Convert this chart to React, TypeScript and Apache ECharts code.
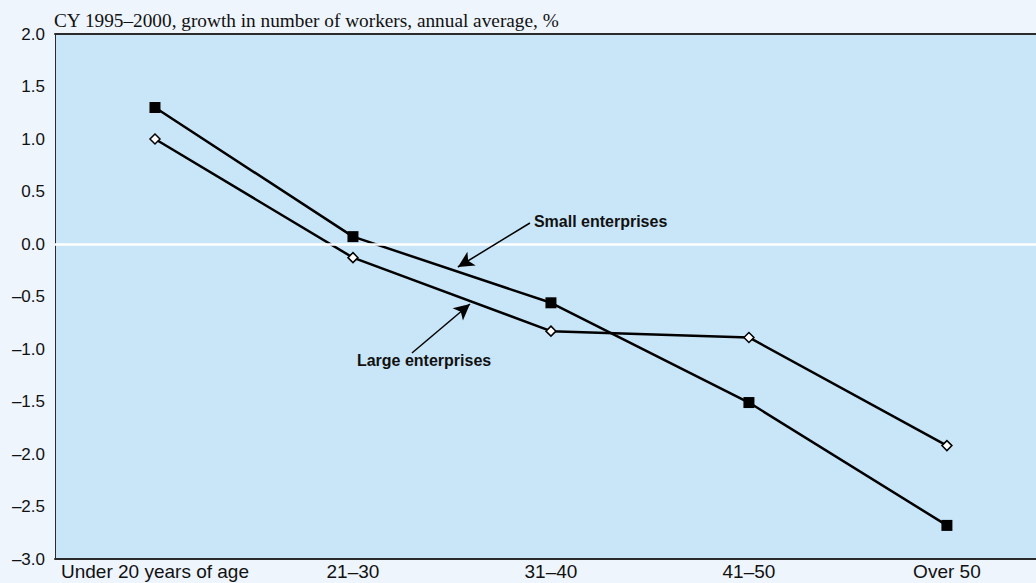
import React, { useEffect, useRef } from "react";
import * as echarts from "echarts";

// Age groups on the horizontal axis
const ageGroups = ["Under 20 years of age", "21–30", "31–40", "41–50", "Over 50"];

// Annual average growth in number of workers, %
const smallEnterprises = [1.3, 0.07, -0.56, -1.51, -2.68];
const largeEnterprises = [1.0, -0.13, -0.83, -0.89, -1.92];

// Vertical axis range
const yMin = -3;
const yMax = 2;
const yStep = 0.5;

const fmtY = (v: number) => v.toFixed(1).replace("-", "\u2013");

export default function App() {
  const ref = useRef<HTMLDivElement>(null);

  useEffect(() => {
    if (!ref.current) return;
    const chart = echarts.init(ref.current, null, { renderer: "svg" });
    const sans = "'Liberation Sans', Arial, sans-serif";
    const xRange = { min: -0.505, max: 4.45 };

    chart.setOption({
      animation: false,
      backgroundColor: "#eef5fc",
      graphic: [
        {
          type: "text",
          x: 54,
          y: 11,
          silent: true,
          style: {
            text: "CY 1995–2000, growth in number of workers, annual average, %",
            fontFamily: "'Liberation Serif', 'Times New Roman', serif",
            fontSize: 19.3,
            fill: "#111",
            verticalAlign: "top",
            align: "left",
          },
        },
      ],
      grid: {
        left: 55,
        right: 0,
        top: 34,
        bottom: 24,
        show: true,
        backgroundColor: "#c9e6f8",
        borderWidth: 0,
      },
      xAxis: [
        {
          type: "value",
          ...xRange,
          axisLine: { show: true, onZero: false, lineStyle: { color: "#2b2b2b", width: 2 } },
          axisTick: { show: false },
          splitLine: { show: false },
          axisLabel: {
            customValues: ageGroups.map((_, i) => i),
            formatter: (v: number) => ageGroups[Math.round(v)] ?? "",
            fontFamily: sans,
            fontSize: 19,
            color: "#111",
            margin: 3,
          },
        },
        {
          type: "value",
          position: "top",
          ...xRange,
          axisLine: { show: true, onZero: false, lineStyle: { color: "#2b2b2b", width: 2 } },
          axisTick: { show: false },
          splitLine: { show: false },
          axisLabel: { show: false },
        },
      ],
      yAxis: {
        type: "value",
        min: yMin,
        max: yMax,
        interval: yStep,
        axisLine: { show: true, onZero: false, lineStyle: { color: "#2b2b2b", width: 1 } },
        axisTick: { show: false },
        splitLine: { show: false },
        axisLabel: {
          formatter: fmtY,
          fontFamily: sans,
          fontSize: 17,
          color: "#111",
          margin: 10,
        },
      },
      series: [
        {
          // zero reference line and annotations
          type: "line",
          data: [],
          z: 1,
          silent: true,
          markLine: {
            silent: true,
            animation: false,
            label: { show: false },
            data: [
              [
                { coord: [xRange.min, 0], symbol: "none", lineStyle: { color: "#ffffff", width: 2.5, type: "solid" } },
                { coord: [xRange.max, 0], symbol: "none" },
              ],
              [
                { coord: [1.894, 0.2], symbol: "none", lineStyle: { color: "#000", width: 1.5, type: "solid" } },
                { coord: [1.53, -0.219], symbol: "arrow", symbolSize: [12, 16] },
              ],
              [
                { coord: [1.298, -1.038], symbol: "none", lineStyle: { color: "#000", width: 1.5, type: "solid" } },
                { coord: [1.591, -0.571], symbol: "arrow", symbolSize: [12, 16] },
              ],
            ],
          },
          markPoint: {
            silent: true,
            symbol: "circle",
            symbolSize: 0,
            label: {
              show: true,
              position: "right",
              distance: 0,
              fontFamily: sans,
              fontWeight: "bold",
              fontSize: 16,
              color: "#111",
            },
            data: [
              { coord: [1.914, 0.21], label: { formatter: "Small enterprises" } },
              { coord: [1.02, -1.114], label: { formatter: "Large enterprises" } },
            ],
          },
        },
        {
          name: "Small enterprises",
          type: "line",
          z: 3,
          data: smallEnterprises.map((v, i) => [i, v]),
          symbol: "rect",
          symbolSize: 11,
          lineStyle: { color: "#000", width: 2.5 },
          itemStyle: { color: "#000", borderColor: "#000", borderWidth: 0 },
        },
        {
          name: "Large enterprises",
          type: "line",
          z: 3,
          data: largeEnterprises.map((v, i) => [i, v]),
          symbol: "diamond",
          symbolSize: 10,
          lineStyle: { color: "#000", width: 2.5 },
          itemStyle: { color: "#fff", borderColor: "#000", borderWidth: 1.5 },
        },
      ],
    });

    return () => chart.dispose();
  }, []);

  return (
    <div
      ref={ref}
      style={{ position: "fixed", left: 0, top: 0, width: 1036, height: 583 }}
    />
  );
}
